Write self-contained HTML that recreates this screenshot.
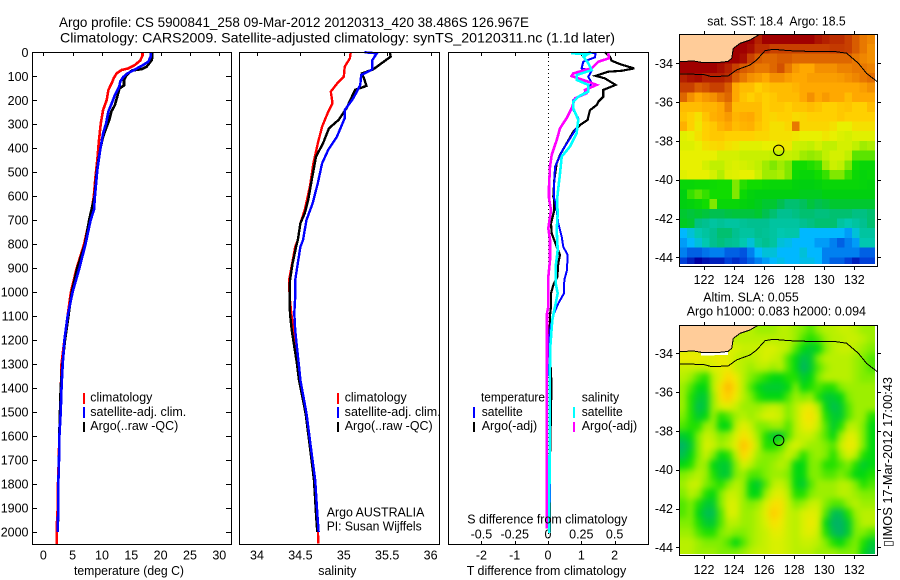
<!DOCTYPE html>
<html lang="en">
<head>
<meta charset="utf-8">
<title>Argo profile</title>
<style>
html,body{margin:0;padding:0;background:#fff;width:900px;height:580px;overflow:hidden}
svg{display:block}
text{font-family:"Liberation Sans","DejaVu Sans",sans-serif;font-size:12.5px;fill:#000;white-space:pre}
.title{font-size:14px}
.frame{fill:none;stroke:#000;stroke-width:1;shape-rendering:crispEdges}
.tick{stroke:#000;stroke-width:1;shape-rendering:crispEdges}
.curve{fill:none;stroke-linejoin:miter;shape-rendering:crispEdges}
</style>
</head>
<body>
<svg id="chart" xmlns="http://www.w3.org/2000/svg" width="900" height="580" viewBox="0 0 900 580">
  <defs>
    <clipPath id="clip-map1"><rect x="679.3" y="34.3" width="195.7" height="229.7"/></clipPath>
    <clipPath id="clip-map2"><rect x="679.3" y="325" width="195.7" height="229"/></clipPath>
    <clipPath id="clip-map1-frame"><rect x="679.3" y="34.3" width="198" height="232"/></clipPath>
    <clipPath id="clip-map2-frame"><rect x="679.3" y="325" width="198" height="230"/></clipPath>
    <filter id="smooth-sla" filterUnits="userSpaceOnUse" x="650" y="295" width="250" height="285" color-interpolation-filters="sRGB"><feGaussianBlur stdDeviation="3.2"/></filter>
  </defs>
  <rect width="900" height="580" fill="#fff"/>

  <text class="title" x="59" y="27" textLength="470" lengthAdjust="spacingAndGlyphs">Argo profile: CS 5900841_258 09-Mar-2012 20120313_420 38.486S 126.967E</text>
  <text class="title" x="60" y="42.5" textLength="555" lengthAdjust="spacingAndGlyphs">Climatology: CARS2009. Satellite-adjusted climatology: synTS_20120311.nc (1.1d later)</text>

  <g id="panel-t"></g>
  <g id="panel-s"></g>
  <g id="panel-d"></g>
  <g id="map-sst"></g>
  <g id="map-sla"></g>

  <rect class="frame" x="32.5" y="52.5" width="199" height="492"/>
  <rect class="frame" x="239.5" y="52.5" width="200" height="492"/>
  <rect class="frame" x="448.5" y="52.5" width="200" height="492"/>
  <rect class="frame" x="679.5" y="34.5" width="198" height="232"/>
  <rect class="frame" x="679.5" y="325.5" width="198" height="230"/>

  <text x="74" y="575" textLength="110" lengthAdjust="spacingAndGlyphs">temperature (deg C)</text>
  <text x="318.3" y="575" textLength="38" lengthAdjust="spacingAndGlyphs">salinity</text>
  <text x="466.7" y="575" textLength="159.5" lengthAdjust="spacingAndGlyphs">T difference from climatology</text>
  <text x="467.3" y="523.3" textLength="160" lengthAdjust="spacingAndGlyphs">S difference from climatology</text>

  <g>
    <rect x="83" y="393" width="2" height="11" fill="#f00"/>
    <rect x="83" y="407" width="2" height="11" fill="#00f"/>
    <rect x="83" y="422" width="2" height="10" fill="#000"/>
    <text x="90.3" y="401.7" textLength="62" lengthAdjust="spacingAndGlyphs">climatology</text>
    <text x="90.3" y="416" textLength="96" lengthAdjust="spacingAndGlyphs">satellite-adj. clim.</text>
    <text x="90.3" y="430" textLength="88" lengthAdjust="spacingAndGlyphs">Argo(..raw -QC)</text>
  </g>
  <g>
    <rect x="337" y="393" width="2" height="11" fill="#f00"/>
    <rect x="337" y="407" width="2" height="11" fill="#00f"/>
    <rect x="337" y="422" width="2" height="10" fill="#000"/>
    <text x="344.7" y="401.7" textLength="62" lengthAdjust="spacingAndGlyphs">climatology</text>
    <text x="344.7" y="416" textLength="96" lengthAdjust="spacingAndGlyphs">satellite-adj. clim.</text>
    <text x="344.7" y="430" textLength="88" lengthAdjust="spacingAndGlyphs">Argo(..raw -QC)</text>
  </g>
  <text x="326.7" y="516.7" textLength="97.7" lengthAdjust="spacingAndGlyphs">Argo AUSTRALIA</text>
  <text x="326.7" y="530.7" textLength="95" lengthAdjust="spacingAndGlyphs">PI: Susan Wijffels</text>

  <g>
    <text x="481" y="401.7" textLength="64" lengthAdjust="spacingAndGlyphs">temperature</text>
    <rect x="473" y="407" width="2" height="11" fill="#00f"/>
    <rect x="473" y="422" width="2" height="10" fill="#000"/>
    <text x="481.7" y="416" textLength="41" lengthAdjust="spacingAndGlyphs">satellite</text>
    <text x="481.7" y="430" textLength="55.5" lengthAdjust="spacingAndGlyphs">Argo(-adj)</text>
    <text x="581.7" y="401.7" textLength="37.5" lengthAdjust="spacingAndGlyphs">salinity</text>
    <rect x="573" y="407" width="2" height="11" fill="#0ff"/>
    <rect x="573" y="422" width="2" height="10" fill="#f0f"/>
    <text x="581.7" y="416" textLength="41" lengthAdjust="spacingAndGlyphs">satellite</text>
    <text x="581.7" y="430" textLength="55.5" lengthAdjust="spacingAndGlyphs">Argo(-adj)</text>
  </g>

  <text x="707.3" y="25.7" textLength="138.4" lengthAdjust="spacingAndGlyphs">sat. SST: 18.4  Argo: 18.5</text>
  <text x="703.3" y="301.7" textLength="95.4" lengthAdjust="spacingAndGlyphs">Altim. SLA: 0.055</text>
  <text x="686.7" y="315.7" textLength="179.3" lengthAdjust="spacingAndGlyphs">Argo h1000: 0.083 h2000: 0.094</text>
  <text transform="translate(892,547) rotate(-90)" x="0" y="0" textLength="170" lengthAdjust="spacingAndGlyphs">▯IMOS 17-Mar-2012 17:00:43</text>
</svg>

<script>
// ---------- tick labels ----------
var depthTicks = [0,100,200,300,400,500,600,700,800,900,1000,1100,1200,1300,1400,1500,1600,1700,1800,1900,2000];
var tempTicks = [0,5,10,15,20,25,30];
var salTicks = [34,34.5,35,35.5,36];
var tDiffTicks = [-2,-1,0,1,2];
var sDiffTicks = [-0.5,-0.25,0,0.25,0.5];
var sDiffTickLabels = ['-0.5','-0.25','0','0.25','0.5'];
var lonTicks = [122,124,126,128,130,132];
var latTicks = [-34,-36,-38,-40,-42,-44];

// ---------- temperature profiles ----------
var tempClimDepth = [0,14,35,53,67,74,88,108,129,157,199,240,296,366,449,518,602,657,700,800,900,1000,1100,1200,1300,1400,1500,1600,1700,1800,1900,1975,2050];
var tempClimValues = [16.9,16.9,16.5,15.6,14.5,13.35,12.5,12,11.65,11.1,10.8,10.2,9.8,9.5,9.2,8.9,8.6,8.25,7.85,6.95,5.7,4.7,4.15,3.6,3.1,3,2.9,2.73,2.65,2.5,2.45,2.3,2.3];
var tempArgoDepth = [0,18,32,60,70,76,95,115,138,150,185,220,247,282,317,352,393,449,500,600,700,800,900,1000,1100,1200,1300,1400,1500,1600,1700,1800,1900,2000];
var tempArgoValues = [18.6,18.6,18.5,17.6,16.8,15.1,14.2,13.75,13.75,13,12.6,12.2,11.6,11.25,10.7,10.2,9.8,9.4,9.1,8.75,7.8,7.1,5.8,4.85,4.27,3.7,3.25,2.96,2.85,2.73,2.68,2.56,2.55,2.45];
var tempSatDepth = [0,18,39,56,76,90,104,122,143,178,213,247,296,338,407,491,602,657,700,800,900,1000,1100,1200,1300,1400,1500,1600,1700,1800,1900,2000];
var tempSatValues = [18.3,18.3,17.9,16.8,15.3,14.2,13.6,13.1,12.95,12.2,11.65,11.1,10.7,10.2,9.7,9.2,8.8,8.65,8.07,7.2,6.15,5,4.15,3.6,3.3,3.1,2.96,2.74,2.68,2.56,2.56,2.44];

// ---------- salinity profiles ----------
var salClimDepth = [0,25,60,102,127,164,213,248,310,380,463,560,658,713,783,811,880,950,1019,1089,1158,1228,1297,1367,1506,1645,1784,1923,1979,2048];
var salClimValues = [35.08,35.07,35.01,35,34.93,34.85,34.87,34.82,34.75,34.7,34.65,34.61,34.55,34.5,34.47,34.44,34.405,34.37,34.376,34.395,34.42,34.435,34.46,34.485,34.56,34.61,34.66,34.685,34.7,34.706];
var salArgoDepth = [0,18,39,71,88,115,140,157,234,282,317,380,435,533,616,672,713,783,811,880,950,1019,1089,1158,1228,1297,1367,1506,1645,1784,1923,1979,2000];
var salArgoValues = [35.53,35.54,35.46,35.34,35.21,35.24,35.26,35.13,35.03,34.94,34.83,34.76,34.68,34.63,34.59,34.55,34.5,34.47,34.45,34.41,34.38,34.376,34.38,34.4,34.43,34.46,34.484,34.56,34.61,34.657,34.68,34.69,34.695];
var salSatDepth = [0,4,32,71,95,136,192,241,275,352,407,463,546,630,699,783,811,880,950,1019,1089,1158,1228,1297,1367,1506,1645,1784,1923,2000];
var salSatValues = [35.24,35.38,35.33,35.33,35.2,35.19,35.11,35.01,35.01,34.92,34.82,34.75,34.7,34.64,34.57,34.53,34.5,34.47,34.44,34.44,34.43,34.44,34.46,34.48,34.5,34.57,34.62,34.67,34.695,34.71];

// ---------- difference profiles (plotted on the T scale; salinity read as T-scale units) ----------
var diffTArgoDepth = [0,18,35,49,67,77,81,98,109,136,157,185,206,220,241,282,303,331,380,428,463,533,602,616,658,713,755,811,845,880,936,971,1005,1061,1096,1130,1172,1370,1420,1700,2000];
var diffTArgoValues = [1.71,1.86,1.91,2.16,2.59,2.21,1.81,1.43,1.71,2.03,1.66,1.66,1.51,1.46,1.26,1.19,0.96,0.76,0.56,0.36,0.26,0.19,0.16,0.19,0.19,0.09,0.11,0.26,0.36,0.31,0.28,0.16,0.09,0.09,0.06,0.06,0.03,0.1,0.1,0.06,0.06];
var diffTSatDepth = [0,5,21,39,67,77,102,127,157,178,199,234,275,310,359,414,477,560,609,616,658,713,769,811,845,908,950,1005,1047,1096,1158,1227,1283,1400,2000];
var diffTSatValues = [1.21,1.43,1.41,1.06,1.01,1.31,1.21,1.31,1.21,1.01,0.76,0.73,0.91,0.89,0.66,0.41,0.21,0.18,0.18,0.21,0.26,0.31,0.41,0.46,0.59,0.57,0.49,0.48,0.31,0.16,0.06,0.03,0.01,0.06,0.05];
var diffSArgoDepth = [4,25,39,67,74,88,99,109,123,136,157,171,192,234,275,317,366,428,477,560,609,616,658,734,783,866,936,1061,1089,1283,1400,1985];
var diffSArgoValues = [1.81,1.83,1.51,1.31,1.11,0.76,0.71,0.91,1.21,1.46,1.11,1.16,0.81,0.71,0.56,0.36,0.26,0.11,0.06,0.03,0.03,0.04,0.09,0.01,0.06,0.06,0.01,0.01,-0.03,-0.03,-0.04,-0.04];
var diffSSatDepth = [4,7,18,46,74,95,115,136,164,185,206,234,282,338,393,435,505,616,672,741,825,894,964,1005,1061,1116,1227,1283,1500,2005];
var diffSSatValues = [0.69,1.21,1.06,1.21,1.31,0.86,0.86,1.21,1.21,0.91,0.76,0.76,0.91,0.86,0.66,0.41,0.36,0.27,0.29,0.26,0.29,0.23,0.23,0.29,0.21,0.13,0.07,0.06,0.05,0.04];

// ---------- map grids: rows run north to south from 32.5S, columns west to east from 120.36E, 0.5 deg cells ----------
var sstGrid = [
[24.5,24.5,24.5,24.5,24.5,24.5,24.5,24.5,24.5,24.5,24,24.5,24.5,24.5,24.5,24.5,24.5,24.5,24.2,24,23.8,23.8,23.5,23,22.5,22.2],
[24.5,24.5,24.5,24.5,24.5,24.5,24.5,24.5,24.5,24.3,23.8,23.8,23.5,23.5,23.5,23.5,23.5,23.5,23.5,23.5,23.6,23.6,23.5,23,22.5,22],
[24.5,24.5,24.5,24.5,24.5,24.5,24.5,24.5,24.3,23.5,23,22.8,22.8,23,23,22.8,22.8,22.8,22.8,22.8,22.8,22.8,22.8,22.5,22.2,22],
[24.5,24.5,24.5,24.5,24.5,24.3,24,23.5,23,22.8,22.5,22.5,22.8,23.2,22.5,21.8,21.5,21.5,22,22,22,22.3,22.3,22.5,22.5,22.3],
[24,24.2,24.3,24,24,24,23.8,23,22.5,22,21.8,21.5,22,22,21.7,21.5,21.5,21.7,21.7,21.7,21.7,21.8,22,22.2,22.5,22.7],
[23.5,23.5,23,23.2,23.5,23.5,23,21.5,21,21,20.5,20.8,21,21,21,21.2,21.5,21.5,21.5,21.5,21.5,21.5,21.5,21.5,21.7,22],
[22.8,22,21.5,21.8,22,22.5,22.8,21.5,20.8,20.5,20.8,20.5,20.7,21,21,21,21.5,22,21.5,21.8,21.5,21.5,21,21.5,21.5,21.5],
[21,21,21,21.2,21.2,21.5,22.3,21,21,21,21,20.5,20.7,20.7,20.5,20.8,20.8,21,20.8,20.5,20.5,20.7,20.8,20.5,20.5,21],
[20.8,20.5,20,20.8,21.3,21.5,21.8,21.2,21.4,21.5,21,20.5,20.3,20.5,20.5,20.2,20.3,20.5,20.5,20.5,20.5,20.7,20.5,20.5,20.5,20.5],
[21.3,20.5,19.8,20.5,20.7,21.2,21.5,21,21.2,21.3,20.8,20.5,20,20,20.3,22.5,20.3,20.3,20.3,20.3,20,19.5,19.5,20,20,20],
[19.3,19.5,20,20.5,20.7,20.7,20.5,20.5,20.5,20.5,20.3,20.3,20,20,20,19.8,19.5,19.5,19.5,19.8,19.5,19.2,19,19.3,19.3,19.3],
[19.2,19.2,19.5,20,20.2,20.3,20,19.8,19.3,19.3,19.3,19.5,19.5,19.8,19.8,18.8,18.7,18.5,19,18.5,18.5,19,19,18.5,18,18.2],
[19.5,19.5,19.5,19.5,19.5,19,19,19,18.7,18.7,18.7,18.7,18.5,18.5,18.7,18.5,18,17.8,18,18.5,19,19,18.5,17,17,17],
[19.5,19.5,19.5,19,18.5,18.5,19,19.2,19,18.8,18.5,18,17.5,18,17.5,16,16,16.2,16.5,18,18.8,18.5,17.5,16,15.5,15.5],
[19.3,19.5,19.5,19.5,19,18.3,19.2,19.3,19.5,19.5,18.8,18,18,18.2,17.5,15.8,15.5,15.5,16,16.5,17.5,17.5,16.5,15.7,15.3,15.5],
[15.5,15.5,15.7,15.7,15.8,16,16,17.5,16.3,16,16,15.7,15.5,15.5,15.5,15.2,15,15,15.2,15.5,15.5,15.5,15.5,15.5,15.3,15.2],
[15,16.5,17,16.5,16,16,16,17.5,15.7,15.2,15,15,15,15,15,15,14.8,14.8,14.8,15,15,15,15,15,15,15],
[15,15.2,15.5,16,17.5,15.5,15.5,15.5,15.2,15,14.8,14.5,14.5,14,13.5,13.5,13.8,14.3,14,14.2,14.5,14.5,14.5,14.5,14.5,14.5],
[14.5,14.3,14.5,14.3,14,14,14.2,14.3,14.3,14.3,14.5,14,13.5,13,13,13.2,13.5,13.5,13.3,13.3,13.5,13.5,13.5,13.2,13.2,13.5],
[14.7,14.5,13.2,13,12.5,12.8,12.5,12.5,12.8,13,13,13,12.5,12.5,12.5,12.5,13,13.2,13.5,13.5,13.5,12.5,12,12.5,13,13.5],
[11,11.5,12,12.5,13,13.5,13.5,13,12.5,12.5,13,12.8,12.5,12,12.2,12.2,11,11,11,11,11,11,10.5,11.5,12.5,12.5],
[10.5,11,11.5,12,13,13.3,13,12.8,12,11.5,12.5,13,12.5,11.5,11.3,11,11,11,10.5,10.5,10,9.5,10,10.5,12,12],
[10,9.5,9.5,9.8,10,10,9.5,9.5,9.3,10,11,11.5,11.5,11,11,11,11.5,11,11,10,10,10,10,10,9.5,9.5],
[9,8.5,8,8.3,8.5,8.5,9,8.7,9,9.5,10,10.5,11,11.3,11,11,11.3,11.3,11,10,9.5,9.5,9,8.5,9,9]
];
var slaGrid = [
[9,9,9,9,9,9,9,9,9,9,8,8,8,9,9,8,7,6,8,9,9,10,10,9,8,8],
[9,9,9,9,9,9,9,9,9,9,9,9,9,9,9,8,6,5,6,8,9,9,10,10,9,8],
[11,11,11,11,11,11,11,11,10,10,10,11,11,10,9,6,4,3,4,7,9,10,10,9,8,7],
[13,13,13,12,12,13,12,10,9,9,10,11,10,9,6,4,2,3,7,9,9,9,9,8,7,6],
[10,10,10,10,11,12,13,10,9,8,9,9,8,9,6,4,1,3,6,8,9,9,9,8,7,6],
[9,8,6,5,9,12,15,13,9,7,6,5,4,4,5,5,3,4,7,9,9,9,9,8,7,7],
[8,6,4,4,9,14,18,14,9,6,4,3,3,3,4,7,4,5,6,5,5,7,8,8,8,8],
[8,5,3,3,8,14,16,13,9,7,5,4,4,4,6,8,7,8,5,3,3,4,7,8,8,8],
[8,5,2,3,8,11,12,10,8,8,8,9,10,9,7,9,12,13,9,4,2,3,6,8,8,8],
[7,5,3,4,8,5,6,8,9,8,9,11,11,10,7,9,13,14,11,5,3,3,6,8,8,5],
[6,5,5,8,8,4,4,9,12,10,7,7,8,8,6,9,12,13,10,6,3,5,9,9,7,4],
[3,4,7,10,9,7,8,11,14,12,8,5,3,3,6,9,10,10,8,6,4,8,12,11,7,4],
[1,3,7,11,10,8,9,12,17,14,9,5,5,6,9,11,9,8,8,7,6,10,13,12,7,4],
[2,4,7,10,7,4,5,9,15,12,8,7,7,8,10,8,5,7,8,7,5,8,11,9,5,4],
[4,5,8,8,4,3,3,7,11,9,7,7,8,9,8,4,4,7,7,5,5,6,7,5,3,4],
[7,8,9,8,5,3,3,7,8,6,6,7,8,8,7,4,4,7,7,6,6,7,6,4,4,5],
[8,10,10,7,6,5,7,9,8,4,3,6,9,10,8,4,3,6,8,8,8,9,9,7,5,6],
[7,9,8,5,4,7,10,10,8,4,4,8,11,12,9,5,5,7,8,8,8,9,9,8,7,7],
[6,7,5,3,3,7,11,11,8,7,8,11,14,14,10,7,8,10,10,7,6,6,8,9,8,8],
[6,7,4,2,2,6,11,11,8,8,9,12,16,14,10,9,11,12,11,6,2,2,5,8,9,9],
[7,7,5,3,3,6,9,9,8,8,9,11,14,13,10,9,11,13,11,4,1,1,3,7,9,9],
[8,8,6,5,5,7,8,7,7,8,9,10,12,12,10,9,11,12,10,5,2,1,3,7,7,6],
[9,9,8,7,7,7,6,4,6,8,9,10,11,11,10,9,10,10,9,7,5,4,6,7,5,3],
[9,9,8,8,8,7,7,7,8,9,10,10,11,11,10,9,9,9,8,8,8,7,7,7,4,2]
];
var sstLevels = [8,9,10,11,12,13,14,15,16,17.5,18.5,19.5,20.5,21.5,22.5,23.5,24.5];
var sstColors = ['#0000a0','#0040d8','#0080f0','#00b8ff','#00c8b0','#00c090','#00c050','#00d010','#10dc00','#80e800','#c0f000','#e8f000','#ffd000','#ffa800','#e87800','#c84000','#a00000'];
var slaLevels = [0,2,4,5,7,9,11,13,15,18];
var slaColors = ['#00a878','#00c050','#00d810','#20e000','#80ee00','#b8f000','#d8f000','#eeea00','#ffd800','#ffb800'];
var coastLon = [120.36,121.3,121.96,122.84,123.6,123.84,123.95,124.4,125.06,125.5,125.7];
var coastLat = [-33.91,-33.88,-33.97,-33.97,-33.9,-33.74,-33.23,-32.97,-32.8,-32.6,-32.5];
var isobathLon = [120.36,121.96,122.51,123.62,124.17,125.06,125.5,126.06,126.61,127.72,129.49,130.6,131.49,132.27,132.82,133.53];
var isobathLat = [-34.55,-34.57,-34.69,-34.65,-34.34,-34.09,-33.83,-33.35,-33.28,-33.35,-33.4,-33.38,-33.48,-34,-34.52,-34.95];
var shoalLon = [121.8,123.6,123.6,121.8];
var shoalLat = [-33.97,-33.9,-34.08,-34.12];
var argoLon = [126.967];
var argoLat = [-38.486];

var NS = 'http://www.w3.org/2000/svg';
function mk(parent, tag, attrs, txt) {
  var el = document.createElementNS(NS, tag);
  for (var k in attrs) { el.setAttribute(k, attrs[k]); }
  if (txt !== undefined) { el.textContent = txt; }
  parent.appendChild(el);
  return el;
}
// axis functions
function yDepth(d) { return 52.3 + 0.2398 * d; }
function xTemp(t) { return 43.3 + 5.867 * t; }
function xSal(s) { return 257 + 86.8 * (s - 34); }
function xDiff(t) { return 548 + 33.3 * t; }
function xLon(lon) { return 704 + 15.03 * (lon - 122); }
function yLat1(lat) { return 63.3 + 19.4 * (-34 - lat); }
function yLat2(lat) { return 353.3 + 19.4 * (-34 - lat); }

function drawCurve(g, depths, values, xf, color, width, name) {
  var p = [];
  for (var i = 0; i < values.length; i++) { p.push(xf(values[i]).toFixed(1) + ',' + yDepth(depths[i]).toFixed(1)); }
  var el = mk(g, 'polyline', {points: p.join(' '), 'class': 'curve', stroke: color, 'stroke-width': width});
  
  
}
function xAxisTicks(g, ticks, labels, xf, baseY, top, bottom, bottomTicks) {
  for (var i = 0; i < ticks.length; i++) {
    var x = Math.round(xf(ticks[i])) + 0.5;
    var t1 = mk(g, 'line', {x1: x, x2: x, y1: top, y2: top + 4, 'class': 'tick'});
    
    
    if (bottomTicks) {
      var t2 = mk(g, 'line', {x1: x, x2: x, y1: bottom, y2: bottom - 4, 'class': 'tick'});
      
      
    }
    var lb = mk(g, 'text', {x: xf(ticks[i]), y: baseY, 'text-anchor': 'middle'}, labels[i]);
    
    
  }
}

// temperature panel
var gT = document.getElementById('panel-t');
for (var i = 0; i < depthTicks.length; i++) {
  var yy = Math.round(yDepth(depthTicks[i])) + 0.5;
  var tl = mk(gT, 'line', {x1: 32, x2: 37, y1: yy, y2: yy, 'class': 'tick'});
  
  
  var tr = mk(gT, 'line', {x1: 226, x2: 231, y1: yy, y2: yy, 'class': 'tick'});
  
  
  var dl = mk(gT, 'text', {x: 28.5, y: yDepth(depthTicks[i]) + 4.5, 'text-anchor': 'end'}, String(depthTicks[i]));
  
  
}
xAxisTicks(gT, tempTicks, tempTicks.map(String), xTemp, 559.3, 52, 545, false);
drawCurve(gT, tempClimDepth, tempClimValues, xTemp, '#f00', 2.6, 'temperature-climatology-line');
drawCurve(gT, tempArgoDepth, tempArgoValues, xTemp, '#000', 2.6, 'temperature-argo-line');
drawCurve(gT, tempSatDepth, tempSatValues, xTemp, '#00f', 2.6, 'temperature-satellite-line');

// salinity panel
var gS = document.getElementById('panel-s');
xAxisTicks(gS, salTicks, salTicks.map(String), xSal, 559.3, 52, 545, false);
drawCurve(gS, salClimDepth, salClimValues, xSal, '#f00', 2.4, 'salinity-climatology-line');
drawCurve(gS, salArgoDepth, salArgoValues, xSal, '#000', 2.4, 'salinity-argo-line');
drawCurve(gS, salSatDepth, salSatValues, xSal, '#00f', 2.4, 'salinity-satellite-line');

// difference panel
var gD = document.getElementById('panel-d');
var zeroLine = mk(gD, 'line', {x1: 548.5, x2: 548.5, y1: 53, y2: 545, stroke: '#000', 'stroke-width': 1, 'stroke-dasharray': '1 3'});


xAxisTicks(gD, tDiffTicks, tDiffTicks.map(String), xDiff, 559.3, 52, 545, true);
for (var s = 0; s < sDiffTicks.length; s++) {
  var sl = mk(gD, 'text', {x: xDiff(sDiffTicks[s] * 4), y: 538.3, 'text-anchor': 'middle'}, sDiffTickLabels[s]);
  
  
}
drawCurve(gD, diffTArgoDepth, diffTArgoValues, xDiff, '#000', 2.2, 't-difference-argo-line');
drawCurve(gD, diffTSatDepth, diffTSatValues, xDiff, '#00f', 2, 't-difference-satellite-line');
drawCurve(gD, diffSArgoDepth, diffSArgoValues, xDiff, '#f0f', 2.6, 's-difference-argo-line');
drawCurve(gD, diffSSatDepth, diffSSatValues, xDiff, '#0ff', 2.6, 's-difference-satellite-line');

// colour scale lookup
function rampColor(v, levels, colors) {
  if (v <= levels[0]) { return colors[0]; }
  for (var i = 1; i < levels.length; i++) {
    if (v <= levels[i]) {
      var f = (v - levels[i - 1]) / (levels[i] - levels[i - 1]);
      var a = colors[i - 1], b = colors[i], out = '#';
      for (var c = 1; c < 7; c += 2) {
        var n = Math.round(parseInt(a.substr(c, 2), 16) * (1 - f) + parseInt(b.substr(c, 2), 16) * f);
        out += (n < 16 ? '0' : '') + n.toString(16);
      }
      return out;
    }
  }
  return colors[colors.length - 1];
}

function pts(lons, lats, yf, closeToCorner) {
  var p = [];
  for (var i = 0; i < lons.length; i++) { p.push(xLon(lons[i]).toFixed(1) + ',' + yf(lats[i]).toFixed(1)); }
  if (closeToCorner) { p.push(xLon(lons[0]).toFixed(1) + ',' + yf(lats[lats.length - 1]).toFixed(1)); }
  return p.join(' ');
}

function drawMap(g, grid, levels, colors, yf, clipImg, clipFrame, bottomFrame, topFrame, labelBase, smooth) {
  var img = mk(g, 'g', {'clip-path': 'url(#' + clipImg + ')', 'shape-rendering': 'crispEdges'});
  
  
  var cells = mk(img, 'g', {});
  
  
  if (smooth) { cells.setAttribute('filter', 'url(#smooth-sla)'); }
  var lastR = grid.length - 1;
  for (var r = 0; r < grid.length; r++) {
    var lastC = grid[r].length - 1;
    for (var c = 0; c < grid[r].length; c++) {
      var x0 = xLon(120.36 + c * 0.5), x1 = xLon(120.36 + (c + 1) * 0.5);
      var y0 = yf(-32.5 - r * 0.5), y1 = yf(-32.5 - (r + 1) * 0.5);
      if (c === 0) { x0 -= 16; }
      if (c === lastC) { x1 += 16; }
      if (r === 0) { y0 -= 16; }
      if (r === lastR) { y1 += 16; }
      var cell = mk(cells, 'rect', {x: x0.toFixed(1), y: y0.toFixed(1), width: (x1 - x0 + 0.4).toFixed(1), height: (y1 - y0 + 0.4).toFixed(1), fill: rampColor(grid[r][c], levels, colors)});
      
      
    }
  }
  var land = mk(img, 'polygon', {points: pts(coastLon, coastLat, yf, true), fill: '#ffcc99'});
  
  
  if (smooth) {
    var shoal = mk(img, 'polygon', {points: pts(shoalLon, shoalLat, yf, false), fill: '#fff'});
    
    
  }
  var over = mk(g, 'g', {'clip-path': 'url(#' + clipFrame + ')'});
  
  
  var coast = mk(over, 'polyline', {points: pts(coastLon, coastLat, yf, false), fill: 'none', stroke: '#000', 'stroke-width': 1, 'shape-rendering': 'crispEdges'});
  
  
  var iso = mk(over, 'polyline', {points: pts(isobathLon, isobathLat, yf, false), fill: 'none', stroke: '#000', 'stroke-width': 1, 'shape-rendering': 'crispEdges'});
  
  
  var mark = mk(over, 'circle', {cx: xLon(argoLon[0]).toFixed(1), cy: yf(argoLat[0]).toFixed(1), r: 5.2, fill: 'none', stroke: '#000', 'stroke-width': 1});
  
  
  for (var i = 0; i < lonTicks.length; i++) {
    var tx = Math.round(xLon(lonTicks[i])) + 0.5;
    var a = mk(g, 'line', {x1: tx, x2: tx, y1: topFrame - 3, y2: topFrame, 'class': 'tick'});
    
    
    var b = mk(g, 'line', {x1: tx, x2: tx, y1: bottomFrame, y2: bottomFrame + 3, 'class': 'tick'});
    
    
    var lab = mk(g, 'text', {x: xLon(lonTicks[i]), y: labelBase, 'text-anchor': 'middle'}, String(lonTicks[i]));
    
    
  }
  for (var j = 0; j < latTicks.length; j++) {
    var ty = Math.round(yf(latTicks[j])) + 0.5;
    var l = mk(g, 'line', {x1: 676, x2: 679, y1: ty, y2: ty, 'class': 'tick'});
    
    
    var rr = mk(g, 'line', {x1: 878, x2: 881, y1: ty, y2: ty, 'class': 'tick'});
    
    
    var ll = mk(g, 'text', {x: 673, y: yf(latTicks[j]) + 4.5, 'text-anchor': 'end'}, String(latTicks[j]));
    
    
  }
}
drawMap(document.getElementById('map-sst'), sstGrid, sstLevels, sstColors, yLat1, 'clip-map1', 'clip-map1-frame', 267, 34, 284, false);
drawMap(document.getElementById('map-sla'), slaGrid, slaLevels, slaColors, yLat2, 'clip-map2', 'clip-map2-frame', 556, 325, 574, true);
</script>
</body>
</html>
